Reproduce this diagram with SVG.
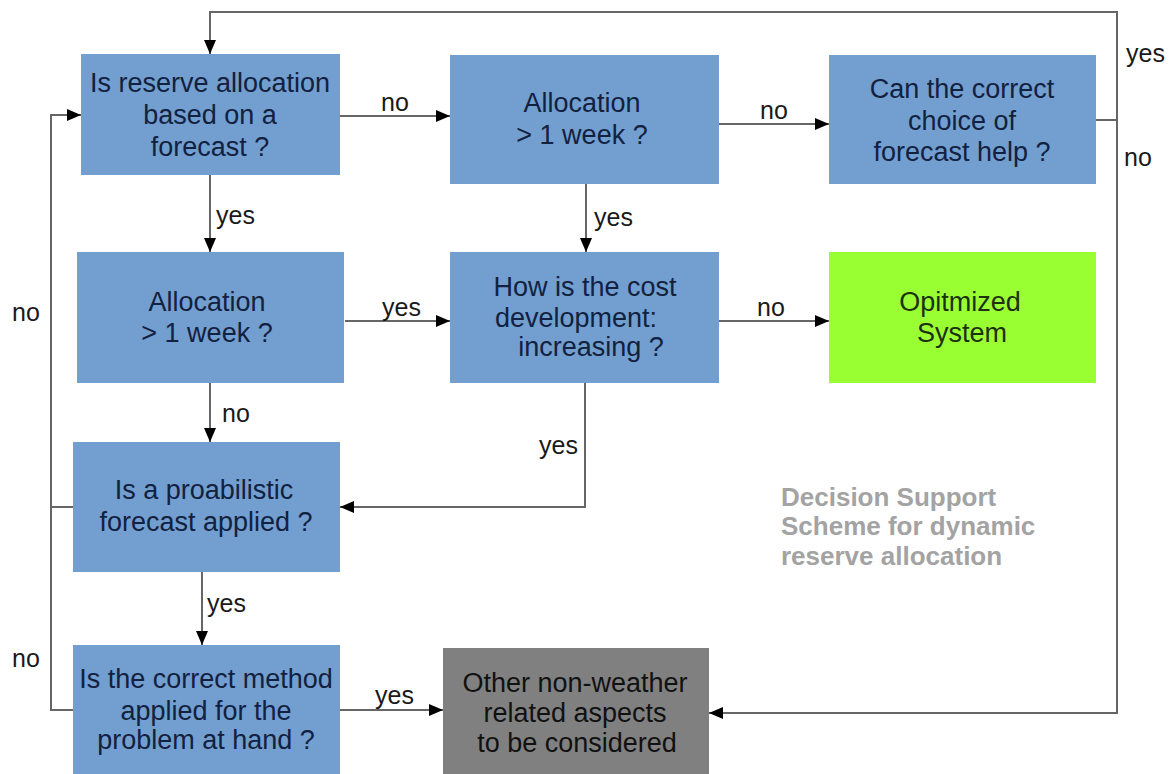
<svg xmlns="http://www.w3.org/2000/svg" width="1173" height="774" viewBox="0 0 1173 774">
<style>
.b{fill:#729fcf}
.g{fill:#99ff33}
.k{fill:#808080}
.t{font-family:"Liberation Sans",Arial,sans-serif;font-size:27px;fill:#12213f;text-anchor:middle}
.tg{fill:#1d3010}
.tk{fill:#111}
.l{font-family:"Liberation Sans",Arial,sans-serif;font-size:25px;fill:#1a1a1a}
.c{fill:none;stroke:#666;stroke-width:2}
.ti{font-family:"Liberation Sans",Arial,sans-serif;font-size:26px;font-weight:bold;fill:#a3a3a3}
</style>
<defs>
<marker id="a" markerUnits="userSpaceOnUse" markerWidth="15" markerHeight="13" refX="14" refY="6" orient="auto">
<path d="M0,0 L14,6 L0,12 z" fill="#000"/>
</marker>
</defs>
<rect width="1173" height="774" fill="#fff"/>
<g id="connectors">
<path class="c" d="M1096,120 H1117 V12 H210 V54" marker-end="url(#a)"/>
<path class="c" d="M1117,120 V713 H709" marker-end="url(#a)"/>
<path class="c" d="M340,116 H450" marker-end="url(#a)"/>
<path class="c" d="M719,124 H829" marker-end="url(#a)"/>
<path class="c" d="M210,175 V252" marker-end="url(#a)"/>
<path class="c" d="M586,184 V252" marker-end="url(#a)"/>
<path class="c" d="M345,321 H450" marker-end="url(#a)"/>
<path class="c" d="M719,321 H829" marker-end="url(#a)"/>
<path class="c" d="M210,383 V442" marker-end="url(#a)"/>
<path class="c" d="M585,383 V507 H340" marker-end="url(#a)"/>
<path class="c" d="M73,507 H51"/>
<path class="c" d="M73,710 H51 V115 H81" marker-end="url(#a)"/>
<path class="c" d="M202,572 V645" marker-end="url(#a)"/>
<path class="c" d="M340,710 H443" marker-end="url(#a)"/>
<text class="l" x="381" y="111">no</text>
<text class="l" x="216" y="224">yes</text>
<text class="l" x="760" y="119">no</text>
<text class="l" x="594" y="226">yes</text>
<text class="l" x="1126" y="62">yes</text>
<text class="l" x="1124" y="166">no</text>
<text class="l" x="12" y="321">no</text>
<text class="l" x="382" y="316">yes</text>
<text class="l" x="222" y="422">no</text>
<text class="l" x="757" y="316">no</text>
<text class="l" x="578" y="454" text-anchor="end">yes</text>
<text class="l" x="207" y="612">yes</text>
<text class="l" x="12" y="667">no</text>
<text class="l" x="375" y="704">yes</text>
</g>
<g id="n1">
<rect class="b" x="81" y="54" width="259" height="121"/>
<text class="t" x="210" y="92">Is reserve allocation</text>
<text class="t" x="210" y="124">based on a</text>
<text class="t" x="210" y="156">forecast ?</text>
</g>
<g id="n2">
<rect class="b" x="450" y="55" width="269" height="129"/>
<text class="t" x="582" y="112">Allocation</text>
<text class="t" x="582" y="144">&gt; 1 week ?</text>
</g>
<g id="n3">
<rect class="b" x="829" y="55" width="267" height="129"/>
<text class="t" x="962" y="98">Can the correct</text>
<text class="t" x="962" y="130">choice of</text>
<text class="t" x="962" y="161">forecast help ?</text>
</g>
<g id="n4">
<rect class="b" x="77" y="252" width="267" height="131"/>
<text class="t" x="207" y="311">Allocation</text>
<text class="t" x="207" y="342">&gt; 1 week ?</text>
</g>
<g id="n5">
<rect class="b" x="450" y="252" width="269" height="131"/>
<text class="t" x="585" y="296">How is the cost</text>
<text class="t" x="576" y="327">development:</text>
<text class="t" x="591" y="356">increasing ?</text>
</g>
<g id="n6">
<rect class="g" x="829" y="252" width="267" height="131"/>
<text class="t tg" x="960" y="311">Opitmized</text>
<text class="t tg" x="962" y="342">System</text>
</g>
<g id="n7">
<rect class="b" x="73" y="442" width="267" height="130"/>
<text class="t" x="204" y="499">Is a proabilistic</text>
<text class="t" x="206" y="531">forecast applied ?</text>
</g>
<g id="n8">
<rect class="b" x="73" y="645" width="267" height="129"/>
<text class="t" x="206" y="688">Is the correct method</text>
<text class="t" x="206" y="720">applied for the</text>
<text class="t" x="206" y="749">problem at hand ?</text>
</g>
<g id="n9">
<rect class="k" x="443" y="648" width="266" height="126"/>
<text class="t tk" x="575" y="692">Other non-weather</text>
<text class="t tk" x="575" y="722">related aspects</text>
<text class="t tk" x="577" y="752">to be considered</text>
</g>
<g id="title">
<text class="ti" x="781" y="506">Decision Support</text>
<text class="ti" x="781" y="535">Scheme for dynamic</text>
<text class="ti" x="781" y="565">reserve allocation</text>
</g>
</svg>
